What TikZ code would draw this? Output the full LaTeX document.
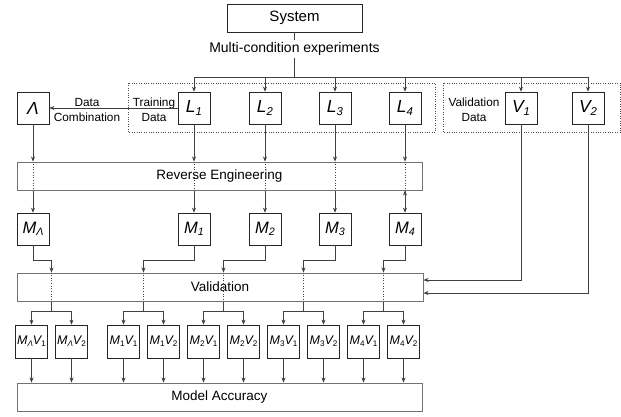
\documentclass[tikz,border=0pt]{standalone}
\usepackage{fontspec}
\setmainfont{Liberation Sans}
\usetikzlibrary{positioning,arrows.meta,calc}

\newcommand{\lab}[2]{#1\raisebox{-0.3ex}{\scalebox{0.65}{#2}}}

\tikzset{
  blk/.style={draw=black!85, line width=0.7pt, minimum width=32pt, minimum height=32pt,
    inner sep=0pt, font=\fontsize{17.5}{17}\selectfont\itshape},
  mvblk/.style={draw=black!85, line width=0.7pt, minimum width=32pt, minimum height=33pt,
    inner sep=0pt, font=\fontsize{12.5}{12}\selectfont\itshape},
  wide/.style={draw=black!55, line width=1pt, minimum width=405pt, minimum height=28pt,
    inner sep=0pt, font=\fontsize{13.5}{14}\selectfont},
  lbl/.style={font=\fontsize{11.8}{15}\selectfont, align=center, inner sep=0pt},
  conn/.style={draw=black!75, line width=0.65pt},
}

\begin{document}
\begin{tikzpicture}[x=1pt,y=-1pt,on grid,>={Stealth[length=5pt,width=4pt]}]
 \useasboundingbox (0,0) rectangle (621,416);

 % source
 \node[draw=black!85, line width=0.7pt, minimum width=135pt, minimum height=28pt,
   font=\fontsize{15}{15}\selectfont] (sys) at (294.5,18) {System};
 \node[font=\fontsize{14}{14}\selectfont, inner sep=2pt] (mce) at (294.5,49) {Multi-condition experiments};
 \coordinate (bus) at (294.5,77);

 % data sets
 \node[blk] (L1) at (194,108) {\lab{L}{1}};
 \node[blk, right=71pt of L1] (L2) {\lab{L}{2}};
 \node[blk, right=70pt of L2] (L3) {\lab{L}{3}};
 \node[blk, right=70pt of L3] (L4) {\lab{L}{4}};
 \node[blk, left=161pt of L1] (lam) {Λ};
 \node[blk] (V1) at (521,108) {\lab{V}{1}};
 \node[blk, right=67pt of V1] (V2) {\lab{V}{2}};

 \node[lbl] (comb) at (87,109.5) {Data\\Combination};
 \node[lbl] (train) at (154,109.5) {Training\\Data};
 \node[lbl] (valdata) at (474,109.5) {Validation\\Data};
 \draw[dotted, black!70] (128,83) rectangle (435,132);
 \draw[dotted, black!70] (443,83) rectangle (620.5,132);

 % models
 \node[wide] (re) at (219.5,176) {Reverse Engineering};
 \node[blk, font=\fontsize{16.5}{16}\selectfont\itshape, below=121pt of lam] (Mlam) {\lab{M}{Λ}};
 \node[blk, font=\fontsize{16.5}{16}\selectfont\itshape, below=121pt of L1] (M1) {\lab{M}{1}};
 \node[blk, font=\fontsize{16.5}{16}\selectfont\itshape, below=121pt of L2] (M2) {\lab{M}{2}};
 \node[blk, font=\fontsize{16.5}{16}\selectfont\itshape, below=121pt of L3] (M3) {\lab{M}{3}};
 \node[blk, font=\fontsize{16.5}{16}\selectfont\itshape, below=121pt of L4] (M4) {\lab{M}{4}};

 % validation results
 \node[wide, minimum width=406pt] (val) at (220,287) {Validation};
 \node[mvblk] (MlamV1) at (31.5,341.5) {\lab{M}{Λ}\lab{V}{\upshape 1}};
 \node[mvblk, right=40pt of MlamV1] (MlamV2) {\lab{M}{Λ}\lab{V}{\upshape 2}};
 \node[mvblk] (M1V1) at (123.5,341.5) {\lab{M}{\upshape 1}\lab{V}{\upshape 1}};
 \node[mvblk, right=40pt of M1V1] (M1V2) {\lab{M}{\upshape 1}\lab{V}{\upshape 2}};
 \node[mvblk] (M2V1) at (203.5,341.5) {\lab{M}{\upshape 2}\lab{V}{\upshape 1}};
 \node[mvblk, right=40pt of M2V1] (M2V2) {\lab{M}{\upshape 2}\lab{V}{\upshape 2}};
 \node[mvblk] (M3V1) at (283.5,341.5) {\lab{M}{\upshape 3}\lab{V}{\upshape 1}};
 \node[mvblk, right=40pt of M3V1] (M3V2) {\lab{M}{\upshape 3}\lab{V}{\upshape 2}};
 \node[mvblk] (M4V1) at (363.5,341.5) {\lab{M}{\upshape 4}\lab{V}{\upshape 1}};
 \node[mvblk, right=40pt of M4V1] (M4V2) {\lab{M}{\upshape 4}\lab{V}{\upshape 2}};
 \node[wide] (acc) at (219.5,397) {Model Accuracy};

 \coordinate (jlam) at ($(MlamV1)!0.5!(MlamV2)$);
 \coordinate (j1) at ($(M1V1)!0.5!(M1V2)$);
 \coordinate (j2) at ($(M2V1)!0.5!(M2V2)$);
 \coordinate (j3) at ($(M3V1)!0.5!(M3V2)$);
 \coordinate (j4) at ($(M4V1)!0.5!(M4V2)$);

 % experiments to data sets
 \draw[conn] (sys) -- (mce);
 \draw[conn] (mce) -- (bus);
 \draw[conn,->] (bus) -| (L1);
 \draw[conn,->] (bus) -| (L2);
 \draw[conn,->] (bus) -| (L3);
 \draw[conn,->] (bus) -| (L4);
 \draw[conn,->] (bus) -| (V1);
 \draw[conn,->] (bus) -| (V2);
 \draw[conn,->] (L1) -- (lam);

 % through reverse engineering
 \path[conn,->]
  (lam) edge (lam |- re.north) (lam |- re.south) edge (Mlam)
  (L1) edge (L1 |- re.north) (L1 |- re.south) edge (M1)
  (L2) edge (L2 |- re.north) (L2 |- re.south) edge (M2)
  (L3) edge (L3 |- re.north) (L3 |- re.south) edge (M3)
  (L4) edge (L4 |- re.north) (L4 |- re.south) edge (M4);
 \path[conn,dotted]
  (lam |- re.north) edge (lam |- re.south)
  (L1 |- re.north) edge (L1 |- re.south)
  (L2 |- re.north) edge (L2 |- re.south)
  (L3 |- re.north) edge (L3 |- re.south)
  (L4 |- re.north) edge (L4 |- re.south);

 % models into validation
 \draw[conn,->] (Mlam.south) -- ++(0,15) -| (val.north -| jlam);
 \draw[conn,->] (M1.south) -- ++(0,15) -| (val.north -| j1);
 \draw[conn,->] (M2.south) -- ++(0,15) -| (val.north -| j2);
 \draw[conn,->] (M3.south) -- ++(0,15) -| (val.north -| j3);
 \draw[conn,->] (M4.south) -- ++(0,15) -| (val.north -| j4);
 \draw[conn,->] (V1) |- ($(val.east)+(0,-7)$);
 \draw[conn,->] (V2) |- ($(val.east)+(0,6)$);
 \path[conn,dotted]
  (val.north -| jlam) edge (val.south -| jlam)
  (val.north -| j1) edge (val.south -| j1)
  (val.north -| j2) edge (val.south -| j2)
  (val.north -| j3) edge (val.south -| j3)
  (val.north -| j4) edge (val.south -| j4);

 % validation into pairs
 \draw[conn] (val.south -| jlam) -- ++(0,10) coordinate (blam);
 \draw[conn] (val.south -| j1) -- ++(0,10) coordinate (b1);
 \draw[conn] (val.south -| j2) -- ++(0,10) coordinate (b2);
 \draw[conn] (val.south -| j3) -- ++(0,10) coordinate (b3);
 \draw[conn] (val.south -| j4) -- ++(0,10) coordinate (b4);
 \draw[conn,->] (blam) -| (MlamV1);
 \draw[conn,->] (blam) -| (MlamV2);
 \draw[conn,->] (b1) -| (M1V1);
 \draw[conn,->] (b1) -| (M1V2);
 \draw[conn,->] (b2) -| (M2V1);
 \draw[conn,->] (b2) -| (M2V2);
 \draw[conn,->] (b3) -| (M3V1);
 \draw[conn,->] (b3) -| (M3V2);
 \draw[conn,->] (b4) -| (M4V1);
 \draw[conn,->] (b4) -| (M4V2);

 % pairs into accuracy
 \path[conn,->]
  (MlamV1) edge (MlamV1 |- acc.north) (MlamV2) edge (MlamV2 |- acc.north)
  (M1V1) edge (M1V1 |- acc.north) (M1V2) edge (M1V2 |- acc.north)
  (M2V1) edge (M2V1 |- acc.north) (M2V2) edge (M2V2 |- acc.north)
  (M3V1) edge (M3V1 |- acc.north) (M3V2) edge (M3V2 |- acc.north)
  (M4V1) edge (M4V1 |- acc.north) (M4V2) edge (M4V2 |- acc.north);
\end{tikzpicture}
\end{document}
